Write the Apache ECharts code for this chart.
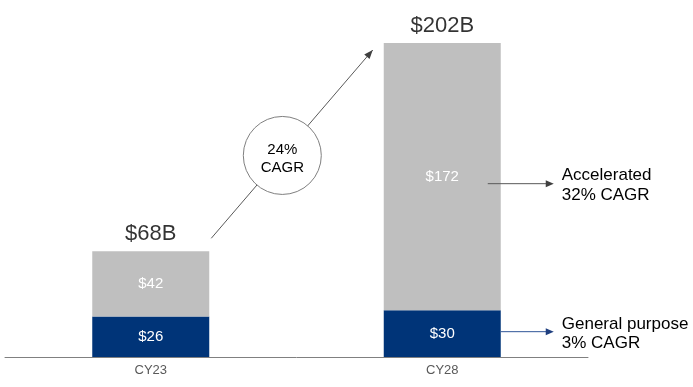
<!DOCTYPE html>
<html>
<head>
<meta charset="utf-8">
<script src="https://cdn.jsdelivr.net/npm/echarts@6/dist/echarts.min.js"></script>
<style>
html,body{margin:0;padding:0;background:#fff;}
#chart{width:693px;height:387px;}
</style>
</head>
<body>
<div id="chart"></div>
<script>
// ---- data ----
const categories = ['CY23', 'CY28'];
const generalPurpose = [26, 30];
const accelerated = [42, 172];
const totals = [68, 202];
const totalLabels = ['$68B', '$202B'];
const growthLabel = '24%\nCAGR';
const acceleratedNote = 'Accelerated\n32% CAGR';
const generalNote = 'General purpose\n3% CAGR';

const FONT = 'Arial, "Liberation Sans", sans-serif';
const chart = echarts.init(document.getElementById('chart'), null, {renderer: 'canvas'});

chart.setOption({
  animation: false,
  textStyle: {fontFamily: FONT},
  grid: {left: 5, right: 105, top: 43, bottom: 30},
  xAxis: {
    type: 'category',
    data: categories,
    axisLine: {lineStyle: {color: '#808080', width: 1}},
    axisTick: {show: false},
    axisLabel: {color: '#595959', fontSize: 13, margin: 7, fontFamily: FONT}
  },
  yAxis: {type: 'value', min: 0, max: 202, show: false, splitLine: {show: false}},
  series: [
    {
      name: 'General purpose', type: 'bar', stack: 't', data: generalPurpose, barWidth: 117,
      itemStyle: {color: '#003478'},
      label: {show: true, position: 'inside', color: '#fff', fontSize: 15, fontFamily: FONT, formatter: p => '$' + p.value}
    },
    {
      name: 'Accelerated', type: 'bar', stack: 't', data: accelerated, barWidth: 117,
      itemStyle: {color: '#bfbfbf'},
      label: {show: true, position: 'inside', color: '#fff', fontSize: 15, fontFamily: FONT, formatter: p => '$' + p.value}
    },
    {
      name: 'Total', type: 'scatter', data: totals, symbolSize: 0, silent: true,
      label: {show: true, position: 'top', distance: 6, color: '#000', fontSize: 22, fontFamily: FONT,
              formatter: p => totalLabels[p.dataIndex]}
    }
  ]
});

// annotations positioned from the axes' own scale
const px = (c, v) => chart.convertToPixel({gridIndex: 0}, [c, v]);
const half = 58.5;
const a0 = px(categories[0], totals[0]);
const a1 = px(categories[1], totals[1]);
const start = [a0[0] + half + 2, a0[1] - 13];
const end = [a1[0] - half - 11, a1[1] + 7];
const t = 0.44;
const mid = [start[0] + (end[0] - start[0]) * t, start[1] + (end[1] - start[1]) * t];
const accY = px(categories[1], generalPurpose[1] + accelerated[1] / 2)[1] + 7;
const genY = px(categories[1], generalPurpose[1] / 2)[1] - 2;
const barRight = a1[0] + half;

chart.setOption({
  graphic: [
    {type: 'line', shape: {x1: start[0], y1: start[1], x2: end[0], y2: end[1]},
     style: {stroke: '#595959', lineWidth: 1}, z: 10},
    {type: 'polygon', z: 11,
     shape: {points: (function(){
       const ang = Math.atan2(end[1] - start[1], end[0] - start[0]);
       const L = 9, W = 3.5;
       const bx = end[0] - L * Math.cos(ang), by = end[1] - L * Math.sin(ang);
       return [[end[0], end[1]], [bx + W * Math.sin(ang), by - W * Math.cos(ang)], [bx - W * Math.sin(ang), by + W * Math.cos(ang)]];
     })()},
     style: {fill: '#404040'}},
    {type: 'circle', shape: {cx: mid[0], cy: mid[1], r: 39}, style: {fill: '#fff', stroke: '#7f7f7f', lineWidth: 1}, z: 12},
    {type: 'text', x: mid[0], y: mid[1] + 3, z: 13,
     style: {text: growthLabel, fill: '#000', font: '15px ' + FONT, align: 'center', verticalAlign: 'middle', lineHeight: 18}},
    // accelerated arrow
    {type: 'line', shape: {x1: barRight - 13, y1: accY, x2: barRight + 46, y2: accY}, style: {stroke: '#595959', lineWidth: 1}, z: 10},
    {type: 'polygon', shape: {points: [[barRight + 53, accY], [barRight + 45, accY - 3.5], [barRight + 45, accY + 3.5]]}, style: {fill: '#404040'}, z: 10},
    {type: 'text', x: barRight + 61, y: accY + 2, z: 10,
     style: {text: acceleratedNote, fill: '#000', font: '17px ' + FONT, align: 'left', verticalAlign: 'middle', lineHeight: 20}},
    // general purpose arrow
    {type: 'line', shape: {x1: barRight, y1: genY, x2: barRight + 46, y2: genY}, style: {stroke: '#2f5597', lineWidth: 1}, z: 10},
    {type: 'polygon', shape: {points: [[barRight + 53, genY], [barRight + 45, genY - 3.5], [barRight + 45, genY + 3.5]]}, style: {fill: '#1f3f7f'}, z: 10},
    {type: 'text', x: barRight + 61, y: genY + 2, z: 10,
     style: {text: generalNote, fill: '#000', font: '17px ' + FONT, align: 'left', verticalAlign: 'middle', lineHeight: 19}}
  ]
});
</script>
</body>
</html>
